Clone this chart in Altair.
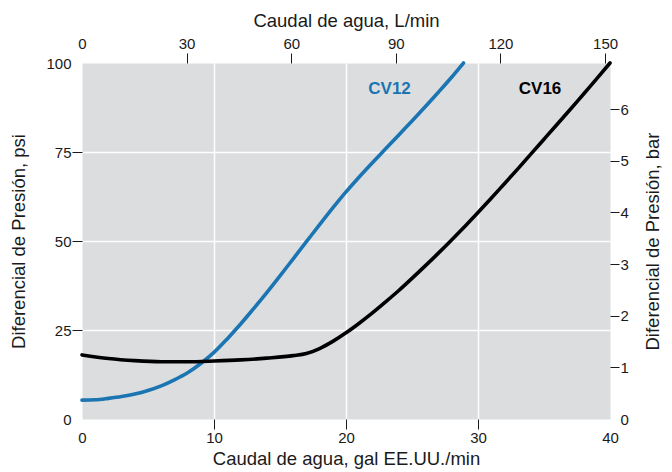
import altair as alt
import pandas as pd

# --- data ---
gal_cv12 = [0, 1, 2, 3, 4, 5, 6, 7, 8, 9, 10, 11, 12, 13, 14, 15, 16, 17, 18, 19, 20,
            21, 22, 23, 24, 25, 26, 27, 28, 28.9]
psi_cv12 = [5.3, 5.4, 5.8, 6.3, 7.0, 8.0, 9.3, 11.0, 13.0, 15.6, 18.7, 22.5, 26.6, 31.0, 35.5, 40.2, 45.0,
            49.8, 54.6, 59.3, 63.8, 68.0, 72.0, 75.9, 79.8, 83.7, 87.7, 91.8, 96.0, 100]

gal_cv16 = [0, 2, 4, 6, 8, 10, 12, 14, 16, 17, 18, 19, 20, 21, 22, 23, 24, 25, 26, 27, 28, 29, 30,
            31, 32, 33, 34, 35, 36, 37, 38, 39, 40]
psi_cv16 = [18.0, 17.0, 16.4, 16.1, 16.1, 16.3, 16.6, 17.1, 17.8, 18.4, 19.8, 21.8, 24.2, 26.9, 29.8, 32.9,
            36.1, 39.5, 43.0, 46.6, 50.3, 54.1, 58.0, 62.0, 66.1, 70.2, 74.4, 78.6, 82.8, 87.0, 91.3, 95.6, 100]

labels = ["CV12", "CV16"]
label_gal = [23.3, 34.7]
label_psi = [92.7, 92.7]
label_colors = ["#1a75b2", "#000000"]

gal_ticks = [0, 10, 20, 30, 40]
lpm_ticks = [0, 30, 60, 90, 120, 150]
psi_ticks = [0, 25, 50, 75, 100]
bar_ticks = [0, 1, 2, 3, 4, 5, 6]

GAL_MAX = 40
LPM_MAX = 40 * 3.78541
PSI_MAX = 100
BAR_MAX = 100 / 14.5038

FONT = "Liberation Sans"
TXT = "#1a1a1a"

df = pd.concat([
    pd.DataFrame({"gal": gal_cv12, "psi": psi_cv12, "serie": "CV12"}),
    pd.DataFrame({"gal": gal_cv16, "psi": psi_cv16, "serie": "CV16"}),
])
lab = pd.DataFrame({"t": labels, "gal": label_gal, "psi": label_psi, "c": label_colors})
ax2 = pd.DataFrame({"lpm": [0, LPM_MAX], "bar": [0, BAR_MAX]})


def cond(test, a, b):
    return {"condition": {"test": test, "value": a}, "value": b}


x_main = alt.X("gal:Q", scale=alt.Scale(domain=[0, GAL_MAX], nice=False, zero=True),
               axis=alt.Axis(values=gal_ticks, title="Caudal de agua, gal EE.UU./min", orient="bottom",
                             grid=True, gridColor="white", gridWidth=1.5, labelFlush=False,
                             gridOpacity=cond("datum.value == 0 || datum.value == 40", 0, 1),
                             tickOpacity=cond("datum.value == 0 || datum.value == 40", 0, 1),
                             tickSize=10, tickColor=TXT, tickWidth=1, labelPadding=1, titlePadding=4,
                             domain=False))
y_main = alt.Y("psi:Q", scale=alt.Scale(domain=[0, PSI_MAX], nice=False),
               axis=alt.Axis(values=psi_ticks, title="Diferencial de Presión, psi", orient="left",
                             grid=True, gridColor="white", gridWidth=1.5, labelFlush=False,
                             gridOpacity=cond("datum.value == 0 || datum.value == 100", 0, 1),
                             tickOpacity=cond("datum.value == 0 || datum.value == 100", 0, 1),
                             tickSize=10, tickColor=TXT, tickWidth=1, labelPadding=1, titlePadding=17,
                             domain=False))

lines = alt.Chart(df).mark_line(strokeWidth=3.6, interpolate="monotone", strokeCap="round").encode(
    x=x_main, y=y_main,
    color=alt.Color("serie:N", scale=alt.Scale(domain=["CV12", "CV16"], range=["#1a75b2", "#000000"]),
                    legend=None),
    detail="serie:N",
)

texts = alt.Chart(lab).mark_text(font=FONT, fontSize=17, fontWeight="bold").encode(
    x=alt.X("gal:Q", scale=alt.Scale(domain=[0, GAL_MAX], nice=False)),
    y=alt.Y("psi:Q", scale=alt.Scale(domain=[0, PSI_MAX], nice=False)),
    text="t:N",
    color=alt.Color("c:N", scale=None),
)

base = alt.layer(lines, texts)

sec = alt.Chart(ax2).mark_point(opacity=0).encode(
    x=alt.X("lpm:Q", scale=alt.Scale(domain=[0, LPM_MAX], nice=False),
            axis=alt.Axis(values=lpm_ticks, title="Caudal de agua, L/min", orient="top", grid=False,
                          tickOpacity=cond("datum.value == 0", 0, 1), labelFlush=False,
                          tickSize=10, tickColor=TXT, tickWidth=1, labelPadding=2, titlePadding=6,
                          domain=False)),
    y=alt.Y("bar:Q", scale=alt.Scale(domain=[0, BAR_MAX], nice=False),
            axis=alt.Axis(values=bar_ticks, title="Diferencial de Presión, bar", orient="right", grid=False,
                          tickOpacity=cond("datum.value == 0", 0, 1), titleAngle=270, titleBaseline="bottom",
                          labelFlush=False,
                          tickSize=9, tickColor=TXT, tickWidth=1, labelPadding=1, titlePadding=34,
                          domain=False)),
)

chart = alt.layer(base, sec).resolve_scale(x="independent", y="independent").properties(
    width=528, height=356,
    autosize=alt.AutoSizeParams(type="none"),
    padding={"left": 74, "top": 55, "right": 54, "bottom": 58},
).configure_view(fill="#dcdddf", stroke="transparent").configure_axis(
    labelFont=FONT, titleFont=FONT, labelFontSize=15, titleFontSize=18.5, labelColor=TXT, titleColor=TXT,
    titleFontWeight="normal",
)

chart.save("out.html", embed_options={"renderer": "svg", "actions": False})
